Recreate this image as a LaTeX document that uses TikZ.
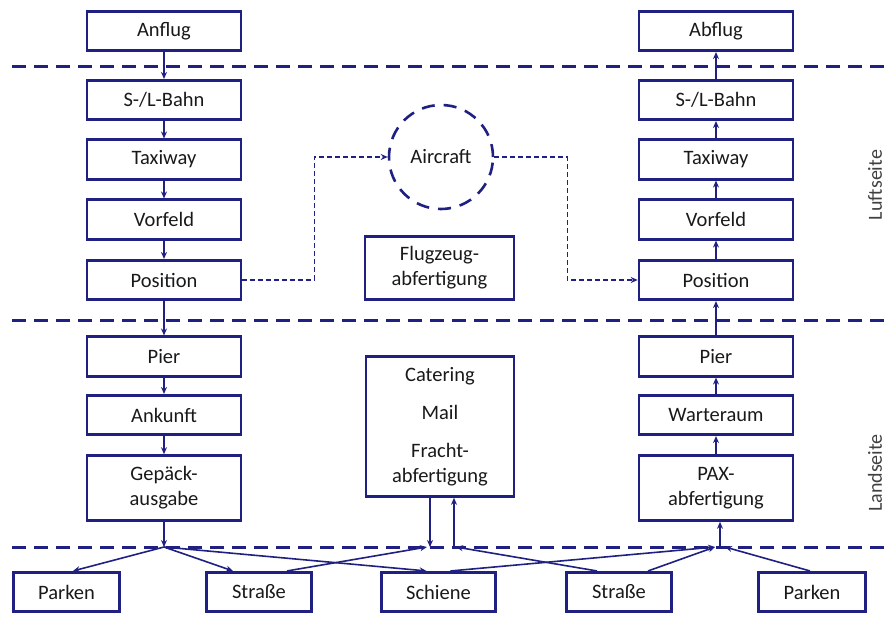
\documentclass[tikz,border=0pt]{standalone}
\usepackage{fontspec}
\setmainfont{Carlito}
\usepackage{tikz}
\usetikzlibrary{arrows.meta,positioning}
\definecolor{navy}{RGB}{32,32,130}

\begin{document}
\begin{tikzpicture}[x=1pt, y=-1pt, >={Stealth[length=7pt,width=6pt]},
    box/.style={draw=navy, line width=2.6pt, minimum width=154pt, minimum height=39.5pt,
        inner sep=2pt, align=center, font=\fontsize{20.5}{25}\selectfont, text=black!90},
    flow/.style={draw=navy, line width=1.6pt, ->},
    link/.style={draw=navy, line width=1.4pt, dash pattern=on 5pt off 3pt, ->},
    sep/.style={draw=navy, line width=3pt, dash pattern=on 14pt off 8pt},
    side/.style={rotate=90, font=\fontsize{20}{24}\selectfont, text=black!75}]
    \useasboundingbox (0,0) rectangle (888,619);

    % Separators
    \draw[sep] (12,66) -- (888,66);
    \draw[sep] (12,320) -- (888,320);
    \draw[sep] (12,547) -- (888,547);

    % Arrival column
    \node[box] (anflug) at (164,31) {Anflug};
    \node[box] (slL) at (164,100) {S-/L-Bahn};
    \node[box] (taxiL) at (164,159.5) {Taxiway};
    \node[box] (vorfeldL) at (164,219.5) {Vorfeld};
    \node[box] (posL) at (164,280) {Position};
    \node[box] (pierL) at (164,356.5) {Pier};
    \node[box] (ankunft) at (164,415) {Ankunft};
    \node[box, minimum height=65pt] (gepaeck) at (164,488) {Gepäck-\\ausgabe};

    % Departure column
    \node[box] (abflug) at (716,31) {Abflug};
    \node[box] (slR) at (716,100) {S-/L-Bahn};
    \node[box] (taxiR) at (716,159.5) {Taxiway};
    \node[box] (vorfeldR) at (716,219.5) {Vorfeld};
    \node[box] (posR) at (716,280) {Position};
    \node[box] (pierR) at (716,356.5) {Pier};
    \node[box] (warteraum) at (716,415) {Warteraum};
    \node[box, minimum height=65pt] (pax) at (716,488) {PAX-\\abfertigung};

    % Middle
    \node[circle, draw=navy, line width=2.6pt, dash pattern=on 13pt off 9pt, minimum size=104pt,
        font=\fontsize{20.5}{25}\selectfont, text=black!90] (aircraft) at (441,157) {Aircraft};
    \node[box, minimum width=149pt, minimum height=63pt] (flugzeug) at (439.5,268) {Flugzeug-\\abfertigung};
    \node[box, minimum width=148pt, minimum height=140pt] (fracht) at (440,426.5)
        {Catering\\[13pt]Mail\\[13pt]Fracht-\\abfertigung};

    % Ground access
    \node[box, minimum width=106pt] (parkenL) at (66.5,592) {Parken};
    \node[box, minimum width=105pt] (strasseL) at (259,592) {Straße};
    \node[box, minimum width=114pt] (schiene) at (438.5,592) {Schiene};
    \node[box, minimum width=105pt] (strasseR) at (619,592) {Straße};
    \node[box, minimum width=107pt] (parkenR) at (812,592) {Parken};

    % Sides
    \node[side] (luft) at (875,185) {Luftseite};
    \node[side] (land) at (875,473) {Landseite};

    % Junctions
    \coordinate (jA) at (164,547);
    \coordinate (jB) at (430,547);
    \coordinate (jC) at (454,547);
    \coordinate (jD) at (720,547);

    % Flows
    \foreach \a/\b in {anflug/slL, slL/taxiL, taxiL/vorfeldL, vorfeldL/posL, posL/pierL,
        pierL/ankunft, ankunft/gepaeck, pax/warteraum, warteraum/pierR, pierR/posR,
        posR/vorfeldR, vorfeldR/taxiR, taxiR/slR, slR/abflug} {
        \draw[flow] (\a) -- (\b);
    }

    \draw[flow] (gepaeck) -- (jA);
    \draw[flow] (jA) -- ([xshift=6.5pt]parkenL.north);
    \draw[flow] (jA) -- ([xshift=-26pt]strasseL.north);
    \draw[flow] (jA) -- ([xshift=-12pt]schiene.north);

    \draw[flow] (fracht.south -| jB) -- (jB);
    \draw[flow] ([xshift=28pt]strasseL.north) -- ([xshift=-3pt]jB);
    \draw[flow] (jC) -- (jC |- fracht.south);
    \draw[flow] ([xshift=-22pt]strasseR.north) -- ([xshift=2pt]jC);

    \draw[flow] ([xshift=12pt]schiene.north) -- ([xshift=-5pt]jD);
    \draw[flow] ([xshift=29pt]strasseR.north) -- ([xshift=-5pt]jD);
    \draw[flow] ([xshift=-2pt]parkenR.north) -- ([xshift=5pt]jD);
    \draw[flow] (jD) -- (jD |- pax.south);

    % Aircraft links
    \draw[link] (posL.east) -- ++(72,0) |- (aircraft.west);
    \draw[link] (aircraft.east) -- ++(73,0) |- (posR.west);

\end{tikzpicture}
\end{document}
